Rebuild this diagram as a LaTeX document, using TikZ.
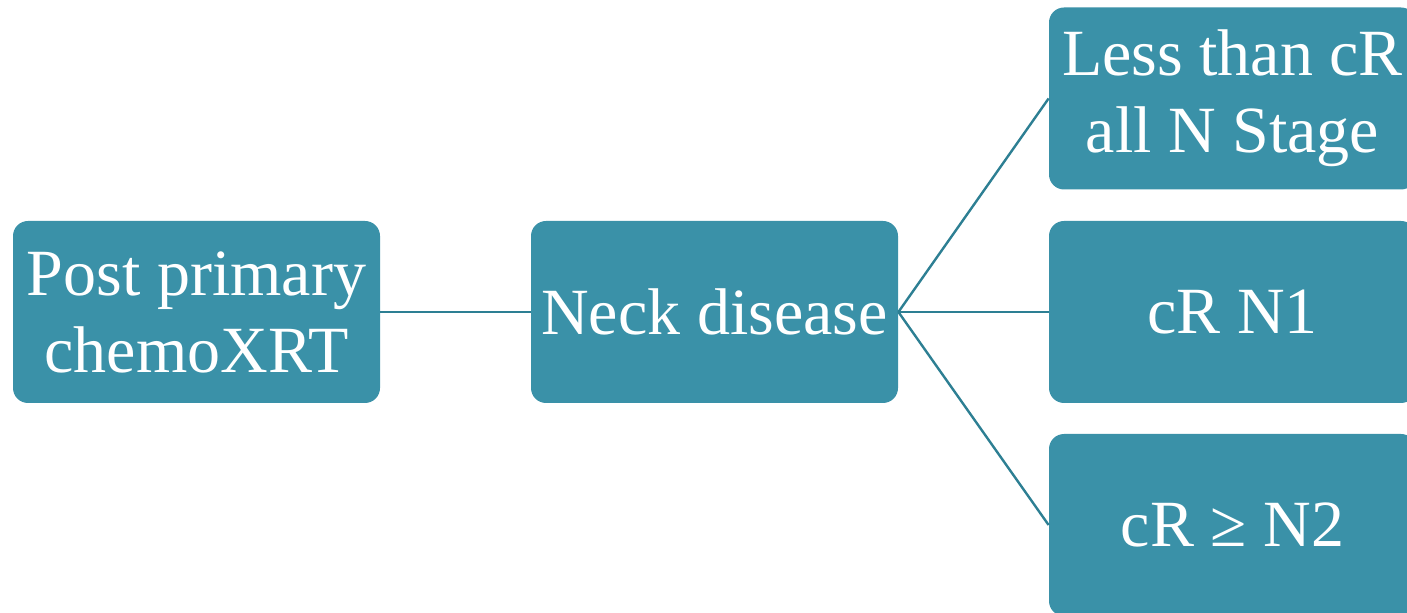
\documentclass[tikz,border=0pt]{standalone}
\usepackage{fontspec}
\setmainfont{Liberation Serif}
\definecolor{boxfill}{HTML}{3A91A8}
\definecolor{linecol}{HTML}{2D7F93}
\begin{document}
\begin{tikzpicture}[x=0.5pt,y=-0.5pt,
  box/.style={fill=boxfill, draw=none, rounded corners=7.5pt, inner sep=0pt,
    minimum width=183.5pt, minimum height=91pt, text=white, align=center,
    font=\fontsize{33}{38.5}\selectfont},
  link/.style={draw=linecol, line width=1.2pt}]
\useasboundingbox (0,0) rectangle (1407,613);
\clip (0,0) rectangle (1407,613);
\node[box] (post) at (196.5,312) {Post primary\\chemoXRT};
\node[box] (neck) at (714.5,312) {Neck disease};
\node[box] (less) at (1232.5,98.5) {Less than cR\\all N Stage};
\node[box] (n1) at (1232.5,312) {cR N1};
\node[box] (n2) at (1232.5,525) {cR ≥ N2};
\draw[link] (post.east) -- (neck.west);
\draw[link] (neck.east) -- (less.west);
\draw[link] (neck.east) -- (n1.west);
\draw[link] (neck.east) -- (n2.west);
\end{tikzpicture}
\end{document}
